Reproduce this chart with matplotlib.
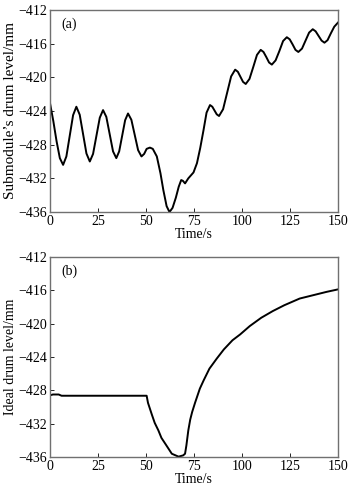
import matplotlib
matplotlib.use("Agg")
import matplotlib.pyplot as plt

plt.rcParams['font.family'] = ['Liberation Serif', 'DejaVu Serif']
plt.rcParams['font.size'] = 10

# Submodule's drum level (a)
t_sub = [0, 1.7, 3.4, 5.1, 6.8,
         8.5, 10.25, 12.0, 13.7,
         15.45, 17.2, 18.95, 20.7,
         22.4, 24.15, 25.9, 27.6,
         29.3, 31.05, 32.8, 34.5,
         36.0, 37.55, 39.1, 40.6,
         42.35, 44.1, 45.85, 47.6,
         49, 50.3, 52, 53.5, 55.6, 57.5, 59, 60.7, 62.2, 63.8, 65.5, 67,
         68.3, 69.2, 70.3, 72, 74.7, 76.5, 78.2, 79.9, 81.5, 83.3,
         84.5, 85.65, 86.8, 88.0,
         90.1, 92.2, 94.3, 96.4,
         97.8, 99.15, 100.5, 101.9,
         103.85, 105.8, 107.75, 109.7,
         111.15, 112.6, 114.05, 115.5,
         117.45, 119.4, 121.35, 123.3,
         124.8, 126.3, 127.8, 129.3,
         131.2, 133.05, 134.9, 136.8,
         138.3, 139.85, 141.4, 142.9,
         144.5, 146.2, 148, 150]
lvl_sub = [-423.1, -425.2, -427.6, -429.6, -430.4,
           -429.4, -426.95, -424.5, -423.5,
           -424.45, -426.75, -429.05, -430.0,
           -429.1, -426.95, -424.8, -423.9,
           -424.7, -426.75, -428.8, -429.6,
           -428.8, -426.95, -425.1, -424.3,
           -425.05, -426.85, -428.65, -429.4,
           -429.1, -428.5, -428.35, -428.5, -429.4, -431.4, -433.4, -435.3,
           -436.0, -435.5, -434.3, -433.0,
           -432.2, -432.3, -432.6, -432.0, -431.3, -430.2, -428.4, -426.3,
           -424.2, -423.3,
           -423.5, -423.95, -424.4, -424.6,
           -423.8, -421.85, -419.9, -419.1,
           -419.35, -419.95, -420.55, -420.8,
           -420.2, -418.8, -417.35, -416.75,
           -417.0, -417.6, -418.25, -418.5,
           -418.0, -416.9, -415.7, -415.25,
           -415.5, -416.1, -416.75, -417.0,
           -416.6, -415.65, -414.7, -414.3,
           -414.55, -415.1, -415.65, -415.9,
           -415.6, -414.8, -414.0, -413.5]

# Ideal drum level (b)
t_ideal = [0, 1.5, 3, 4.5, 6, 10, 20, 30, 40, 50.3,
           51, 52, 53, 54.5, 56.4, 58, 60, 63.4, 66.9, 69.3, 70.3,
           71.0, 72, 73, 74, 75.5, 78, 80, 83, 86.8, 90.5, 95, 99, 104,
           110, 116, 122, 130, 137, 144, 150]
lvl_ideal = [-428.6, -428.5, -428.5, -428.5, -428.65, -428.65, -428.65,
             -428.65, -428.65, -428.65,
             -429.5, -430.2, -430.9, -431.9, -432.8, -433.7, -434.4, -435.6,
             -435.95, -435.8, -435.6,
             -434.6, -432.8, -431.5, -430.6, -429.5, -427.8, -426.8, -425.4,
             -424.2, -423.1, -422.0, -421.3, -420.3,
             -419.3, -418.5, -417.8, -417.0, -416.6, -416.2, -415.9]

xticks = [0, 25, 50, 75, 100, 125, 150]
yticks = [-436, -432, -428, -424, -420, -416, -412]

fig = plt.figure(figsize=(3.5, 4.92), dpi=100)
ax_a = fig.add_axes([0.143, 0.569, 0.823, 0.411])
ax_b = fig.add_axes([0.143, 0.071, 0.823, 0.407])

panels = [
    (ax_a, t_sub, lvl_sub, "Submodule’s drum level/mm", 11, "(a)"),
    (ax_b, t_ideal, lvl_ideal, "Ideal drum level/mm", 10, "(b)"),
]

for ax, t, y, ylab, ysize, tag in panels:
    ax.plot(t, y, color='black', linewidth=1.4, solid_joinstyle='round')
    ax.set_xlim(0, 150)
    ax.set_ylim(-436, -412)
    ax.set_xticks(xticks)
    ax.set_yticks(yticks)
    ax.set_xlabel("Time/s", labelpad=0)
    ax.set_ylabel(ylab, fontsize=ysize, labelpad=1)
    ax.tick_params(direction='in', length=3, width=0.6, pad=2, labelsize=10)
    for s in ax.spines.values():
        s.set_color('#707070')
        s.set_linewidth(1.0)
    ax.text(0.04, 0.93, tag, transform=ax.transAxes, fontsize=10,
            va='center', ha='left')

fig.savefig("out.png", dpi=100)
